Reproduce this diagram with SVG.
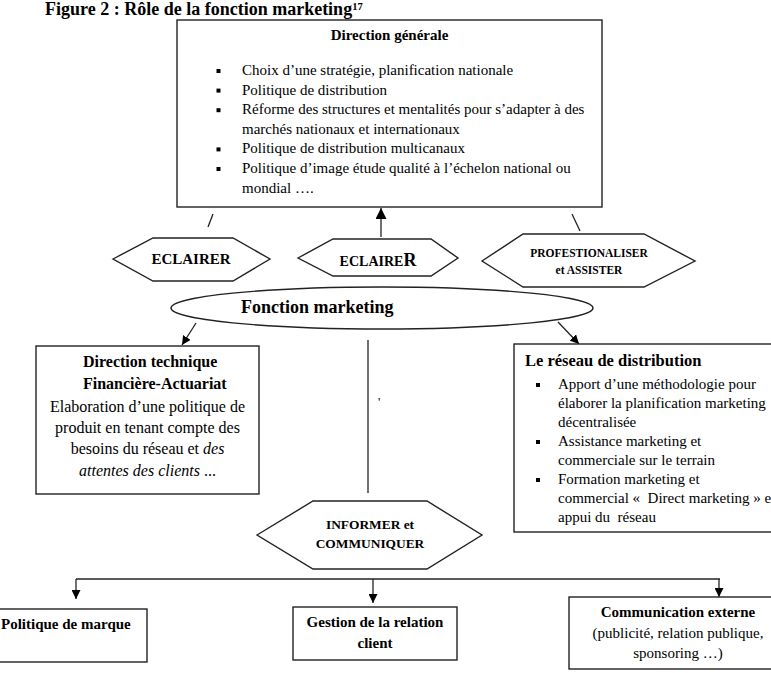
<svg xmlns="http://www.w3.org/2000/svg" width="771" height="673" viewBox="0 0 771 673">
<style>
text { font-family: "Liberation Serif", "Times New Roman", serif; fill: #000; white-space: pre; }
.b { font-weight: bold; }
.i { font-style: italic; }
.m { text-anchor: middle; }
.box { fill: #fff; stroke: #222; stroke-width: 1.4; }
.ln { fill: none; stroke: #222; stroke-width: 1.3; }
.bul { fill: #000; }
.t15 { font-size: 15px; }
.t16 { font-size: 16px; }
</style>
<defs>
<marker id="ah" viewBox="0 0 10 10" refX="10" refY="5" markerWidth="9" markerHeight="9" markerUnits="userSpaceOnUse" orient="auto"><path d="M0,0 L10,5 L0,10 z" fill="#000"/></marker>
<marker id="ahL" viewBox="0 0 10 10" refX="10" refY="5" markerWidth="12" markerHeight="11" markerUnits="userSpaceOnUse" orient="auto"><path d="M0,0 L10,5 L0,10 z" fill="#000"/></marker>
</defs>
<rect x="0" y="0" width="771" height="673" fill="#fff"/>

<text id="title" class="b" x="45" y="15" font-size="18">Figure 2 : Rôle de la fonction marketing<tspan font-size="10.5" dy="-5.5">17</tspan></text>

<g id="connectors">
<line class="ln" x1="213" y1="214" x2="208" y2="227"/>
<line class="ln" x1="381" y1="237" x2="381" y2="208" marker-end="url(#ahL)"/>
<line class="ln" x1="572" y1="214" x2="580" y2="231"/>
<line class="ln" x1="196" y1="323" x2="182" y2="345" marker-end="url(#ah)"/>
<line class="ln" x1="558" y1="322" x2="579" y2="344" marker-end="url(#ah)"/>
<line class="ln" x1="368" y1="340" x2="368" y2="493"/>
<line class="ln" x1="76" y1="579" x2="720" y2="579"/>
<line class="ln" x1="76" y1="579" x2="76" y2="599" marker-end="url(#ah)"/>
<line class="ln" x1="373" y1="579" x2="373" y2="603" marker-end="url(#ah)"/>
<line class="ln" x1="719" y1="579" x2="719" y2="597" marker-end="url(#ah)"/>
</g>

<g id="direction-generale">
<rect class="box" x="177" y="20" width="425" height="187"/>
<text class="b t15 m" x="389.5" y="40">Direction générale</text>
<rect class="bul" x="216.5" y="69" width="4" height="4"/>
<text class="t15" x="242" y="75">Choix d’une stratégie, planification nationale</text>
<rect class="bul" x="216.5" y="88.6" width="4" height="4"/>
<text class="t15" x="242" y="94.6">Politique de distribution</text>
<rect class="bul" x="216.5" y="108.2" width="4" height="4"/>
<text class="t15" x="242" y="114.2">Réforme des structures et mentalités pour s’adapter à des</text>
<text class="t15" x="242" y="133.8">marchés nationaux et internationaux</text>
<rect class="bul" x="216.5" y="147.4" width="4" height="4"/>
<text class="t15" x="242" y="153.4">Politique de distribution multicanaux</text>
<rect class="bul" x="216.5" y="167" width="4" height="4"/>
<text class="t15" x="242" y="173">Politique d’image étude qualité à l’échelon national ou</text>
<text class="t15" x="242" y="192.6">mondial ….</text>
</g>

<g id="eclairer-left">
<polygon class="box" points="113,259 153,238 233,238 270,259 233,281 153,281"/>
<text class="b m" x="191" y="264" font-size="15">ECLAIRER</text>
</g>

<g id="eclairer-mid">
<polygon class="box" points="298,258 333,239 431,239 458,258 431,276 333,276"/>
<text class="b m" x="378" y="266" font-size="14">ECLAIRE<tspan font-size="18">R</tspan></text>
</g>

<g id="professionaliser">
<polygon class="box" points="482,261 523,234 644,234 695,261 644,287 523,287"/>
<text class="b m" x="589" y="257" font-size="11.5">PROFESTIONALISER</text>
<text class="b m" x="589" y="274" font-size="11.5">et ASSISTER</text>
</g>

<g id="fonction-marketing">
<ellipse class="box" cx="382" cy="308" rx="211" ry="21"/>
<text class="b" x="241" y="313" font-size="18">Fonction marketing</text>
</g>

<g id="direction-technique">
<rect class="box" x="36" y="346" width="223" height="148"/>
<text class="b t16" x="83" y="367">Direction technique</text>
<text class="b t16" x="83" y="389">Financière-Actuariat</text>
<text class="t16 m" x="147.5" y="412">Elaboration d’une politique de</text>
<text class="t16 m" x="147.5" y="433">produit en tenant compte des</text>
<text class="t16 m" x="147.5" y="454">besoins du réseau et <tspan class="i">des</tspan></text>
<text class="t16 m" x="147.5" y="476"><tspan class="i">attentes des clients</tspan> ...</text>
</g>

<g id="stray-mark">
<text x="378" y="406" font-size="13">'</text>
</g>

<g id="reseau-distribution">
<rect class="box" x="514" y="344" width="270" height="188"/>
<text class="b" x="525" y="366" font-size="16.5">Le réseau de distribution</text>
<rect class="bul" x="536" y="383" width="4" height="4"/>
<text class="t15" x="558" y="389">Apport d’une méthodologie pour</text>
<text class="t15" x="558" y="408">élaborer la planification marketing</text>
<text class="t15" x="558" y="427">décentralisée</text>
<rect class="bul" x="536" y="440" width="4" height="4"/>
<text class="t15" x="558" y="446">Assistance marketing et</text>
<text class="t15" x="558" y="465">commerciale sur le terrain</text>
<rect class="bul" x="536" y="478" width="4" height="4"/>
<text class="t15" x="558" y="484">Formation marketing et</text>
<text class="t15" x="558" y="503">commercial «  Direct marketing » e</text>
<text class="t15" x="558" y="522">appui du  réseau</text>
</g>

<g id="informer">
<polygon class="box" points="257,535 313,501 427,501 482,535 427,569 313,569"/>
<text class="b m" x="370" y="529" font-size="13.4">INFORMER et</text>
<text class="b m" x="370" y="548" font-size="13.4">COMMUNIQUER</text>
</g>

<g id="politique-marque">
<rect class="box" x="-5" y="609" width="152" height="53"/>
<text class="b t15" x="1" y="629">Politique de marque</text>
</g>

<g id="gestion-relation">
<rect class="box" x="293" y="607" width="164" height="53"/>
<text class="b t15 m" x="375" y="627">Gestion de la relation</text>
<text class="b t15 m" x="375" y="648">client</text>
</g>

<g id="communication-externe">
<rect class="box" x="569" y="597" width="215" height="72"/>
<text class="b t15 m" x="678" y="617">Communication externe</text>
<text class="t15 m" x="678" y="638">(publicité, relation publique,</text>
<text class="t15 m" x="678" y="658">sponsoring …)</text>
</g>
</svg>
